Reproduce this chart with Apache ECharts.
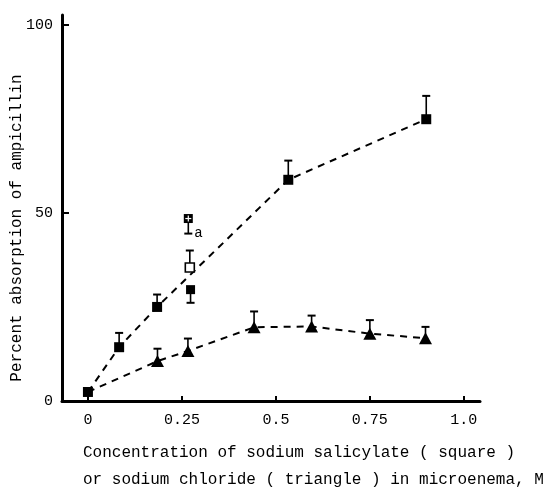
<!DOCTYPE html>
<html>
<head>
<meta charset="utf-8">
<script src="https://cdn.jsdelivr.net/npm/echarts@6/dist/echarts.min.js"></script>
<style>
  html, body { margin: 0; padding: 0; background: #fff; }
  #chart { width: 548px; height: 491px; }
</style>
</head>
<body>
<div id="chart"></div>
<script>
// sodium salicylate (filled squares)
const salX = [0, 0.083, 0.184, 0.533, 0.9];
const salY = [2.4, 14.3, 25.0, 58.8, 74.9];
const salErr = [null, 18.1, 28.3, 63.9, 81.1];

// sodium chloride (triangles)
const nacX = [0, 0.185, 0.266, 0.442, 0.595, 0.75, 0.898];
const nacY = [2.4, 10.6, 13.3, 19.6, 19.8, 17.9, 16.7];
const nacErr = [null, 13.9, 16.6, 23.8, 22.7, 21.5, 19.7];

// separate points near 0.27 M
const extraX = [0.273, 0.271, 0.267];
const extraY = [29.6, 35.5, 48.5];
const extraErr = [26.1, 40.0, 44.5];
const extraKind = ["filled", "open", "cross"];

const xTicks = [0, 0.25, 0.5, 0.75, 1.0];
const xTickLabels = ["0", "0.25", "0.5", "0.75", "1.0"];
const yTicks = [0, 50, 100];
const yTickLabels = ["0", "50", "100"];

const FONT = "Liberation Mono";

function errData(xs, ys, es) {
  const out = [];
  xs.forEach((x, i) => {
    if (es[i] != null) out.push([x, ys[i], es[i]]);
  });
  return out;
}

function renderErr(params, api) {
  const p0 = api.coord([api.value(0), api.value(1)]);
  const p1 = api.coord([api.value(0), api.value(2)]);
  return {
    type: "group",
    children: [
      { type: "line", shape: { x1: p0[0], y1: p0[1], x2: p1[0], y2: p1[1] }, style: { stroke: "#000", lineWidth: 1.6 } },
      { type: "line", shape: { x1: p1[0] - 4, y1: p1[1], x2: p1[0] + 4, y2: p1[1] }, style: { stroke: "#000", lineWidth: 2 } },
    ],
  };
}

function renderExtra(params, api) {
  const p = api.coord([api.value(0), api.value(1)]);
  const kind = extraKind[params.dataIndex];
  const s = 9;
  if (kind === "filled") {
    return { type: "rect", shape: { x: p[0] - s / 2, y: p[1] - s / 2, width: s, height: s }, style: { fill: "#000" } };
  }
  if (kind === "open") {
    return { type: "rect", shape: { x: p[0] - s / 2, y: p[1] - s / 2, width: s, height: s }, style: { fill: "#fff", stroke: "#000", lineWidth: 1.6 } };
  }
  return {
    type: "group",
    children: [
      { type: "rect", shape: { x: p[0] - s / 2, y: p[1] - s / 2, width: s, height: s }, style: { fill: "#000" } },
      { type: "line", shape: { x1: p[0] - 3, y1: p[1], x2: p[0] + 3, y2: p[1] }, style: { stroke: "#fff", lineWidth: 1.2 } },
      { type: "line", shape: { x1: p[0], y1: p[1] - 3, x2: p[0], y2: p[1] + 3 }, style: { stroke: "#fff", lineWidth: 1.2 } },
      { type: "text", style: { text: "a", x: p[0] + 6, y: p[1] + 15, fill: "#000", font: "14px " + FONT, verticalAlign: "middle" } },
    ],
  };
}

const myChart = echarts.init(document.getElementById("chart"));
const option = {
  animation: false,
  backgroundColor: "#fff",
  grid: { left: 62, right: 68, top: 15, bottom: 90, outerBoundsMode: "none" },
  xAxis: {
    type: "value",
    min: -0.069,
    max: 1.043,
    axisLine: { onZero: false, lineStyle: { color: "#000", width: 3 } },
    axisTick: { customValues: xTicks, inside: true, length: 5, lineStyle: { color: "#000", width: 2 } },
    axisLabel: {
      customValues: xTicks,
      formatter: (v) => xTickLabels[xTicks.indexOf(v)],
      margin: 12,
      color: "#000",
      fontFamily: FONT,
      fontSize: 15,
    },
    splitLine: { show: false },
  },
  yAxis: {
    type: "value",
    min: 0,
    max: 102.6,
    axisLine: { onZero: false, lineStyle: { color: "#000", width: 3 } },
    axisTick: { customValues: yTicks, inside: true, length: 7, lineStyle: { color: "#000", width: 2 } },
    axisLabel: {
      customValues: yTicks,
      formatter: (v) => yTickLabels[yTicks.indexOf(v)],
      margin: 9,
      color: "#000",
      fontFamily: FONT,
      fontSize: 15,
    },
    splitLine: { show: false },
  },
  graphic: [
    {
      type: "text",
      x: 17,
      y: 228,
      rotation: Math.PI / 2,
      style: { text: "Percent absorption of ampicillin", fill: "#000", font: "16px " + FONT, align: "center", verticalAlign: "middle" },
    },
    { type: "text", x: 83, y: 453, style: { text: "Concentration of sodium salicylate ( square )", fill: "#000", font: "16px " + FONT, verticalAlign: "middle" } },
    { type: "text", x: 83, y: 480, style: { text: "or sodium chloride ( triangle ) in microenema, M", fill: "#000", font: "16px " + FONT, verticalAlign: "middle" } },
  ],
  series: [
    { type: "custom", renderItem: renderErr, data: errData(salX, salY, salErr), encode: { x: 0, y: [1, 2] }, z: 1 },
    { type: "custom", renderItem: renderErr, data: errData(nacX, nacY, nacErr), encode: { x: 0, y: [1, 2] }, z: 1 },
    { type: "custom", renderItem: renderErr, data: errData(extraX, extraY, extraErr), encode: { x: 0, y: [1, 2] }, z: 1 },
    {
      type: "line",
      data: nacX.map((x, i) => (i === 0 ? { value: [x, nacY[i]], symbol: "none" } : [x, nacY[i]])),
      symbol: "triangle",
      symbolSize: [13, 12],
      itemStyle: { color: "#000" },
      lineStyle: { color: "#000", width: 2, type: [7, 6] },
      z: 3,
    },
    {
      type: "line",
      data: salX.map((x, i) => [x, salY[i]]),
      symbol: "rect",
      symbolSize: 10,
      itemStyle: { color: "#000" },
      lineStyle: { color: "#000", width: 2, type: [7, 6] },
      z: 4,
    },
    { type: "custom", renderItem: renderExtra, data: extraX.map((x, i) => [x, extraY[i]]), encode: { x: 0, y: 1 }, z: 5 },
  ],
};
myChart.setOption(option);
window.addEventListener("resize", function () {
  myChart.resize();
});
</script>
</body>
</html>
